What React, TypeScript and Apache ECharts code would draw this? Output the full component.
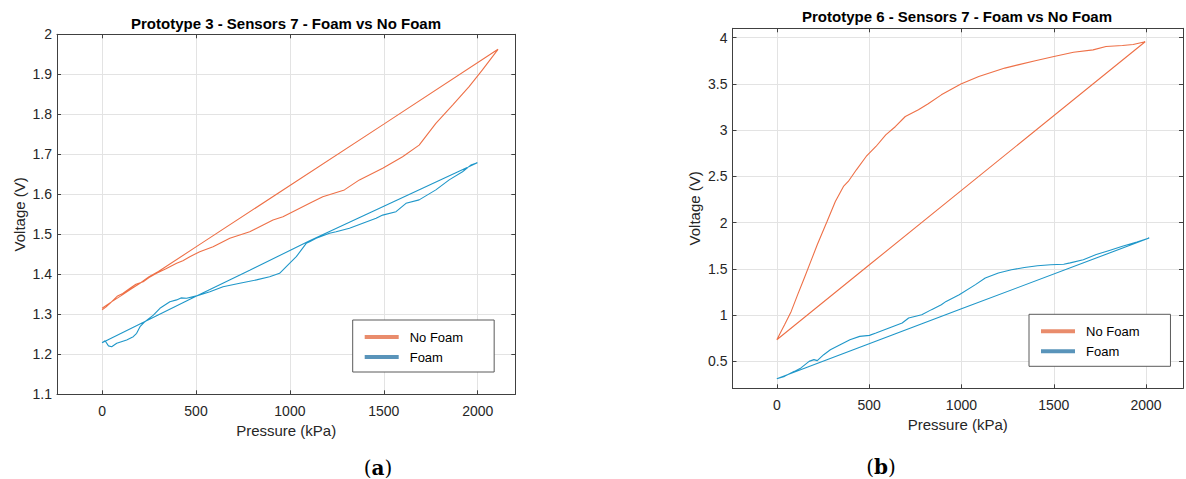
import React, { useEffect, useRef } from "react";
import * as echarts from "echarts";

// ---------- data ----------
const seriesNames = ["No Foam", "Foam"];

const leftTitle = "Prototype 3 - Sensors 7 - Foam vs No Foam";
const rightTitle = "Prototype 6 - Sensors 7 - Foam vs No Foam";

const xTicks = [0, 500, 1000, 1500, 2000];
const leftYTicks = [1.1, 1.2, 1.3, 1.4, 1.5, 1.6, 1.7, 1.8, 1.9, 2];
const rightYTicks = [0.5, 1, 1.5, 2, 2.5, 3, 3.5, 4];

// Prototype 3, no foam (loading curve then straight unloading line)
const leftNoFoam: [number, number][] = [
  [0, 1.311], [20, 1.318], [42, 1.3275], [80, 1.345], [110, 1.352], [149, 1.365],
  [180, 1.375], [219, 1.3815], [250, 1.392], [290, 1.4025], [340, 1.414], [397, 1.4275],
  [430, 1.434], [467, 1.444], [520, 1.4565], [591, 1.469], [680, 1.49], [786, 1.5065],
  [910, 1.536], [963, 1.544], [1105, 1.5775], [1175, 1.594], [1290, 1.611], [1370, 1.636],
  [1494, 1.665], [1600, 1.694], [1688, 1.723], [1777, 1.7775], [1866, 1.823], [1954, 1.869],
  [2025, 1.911], [2108, 1.9625],
  [1500, 1.7755], [1000, 1.622], [500, 1.4685], [300, 1.407], [250, 1.394], [200, 1.377],
  [150, 1.362], [100, 1.346], [50, 1.331], [0, 1.315],
];

// Prototype 3, foam
const leftFoam: [number, number][] = [
  [0, 1.229], [16, 1.234], [34, 1.221], [51, 1.219], [78, 1.2275], [131, 1.236], [166, 1.244],
  [184, 1.2525], [202, 1.269], [228, 1.2815], [273, 1.298], [308, 1.315], [361, 1.3315],
  [397, 1.336], [420, 1.341], [450, 1.34], [503, 1.346], [574, 1.3565], [644, 1.369],
  [733, 1.3775], [822, 1.386], [892, 1.394], [945, 1.4025], [998, 1.4275], [1034, 1.444],
  [1061, 1.461], [1087, 1.4775], [1105, 1.4815], [1140, 1.49], [1211, 1.5025], [1246, 1.5065],
  [1317, 1.515], [1388, 1.5275], [1459, 1.54], [1494, 1.548], [1565, 1.5565], [1618, 1.5775],
  [1688, 1.586], [1777, 1.611], [1848, 1.636], [1919, 1.6565], [1963, 1.673], [1998, 1.679],
  [1500, 1.57], [1105, 1.484], [786, 1.41], [500, 1.345], [0, 1.229],
];

// Prototype 6, no foam
const rightNoFoam: [number, number][] = [
  [0, 0.735], [42, 0.897], [78, 1.041], [113, 1.222], [149, 1.402], [184, 1.581], [219, 1.761],
  [272, 2.013], [317, 2.229], [361, 2.391], [387, 2.445], [431, 2.571], [484, 2.715],
  [537, 2.823], [590, 2.949], [643, 3.039], [696, 3.147], [767, 3.219], [820, 3.285],
  [891, 3.381], [997, 3.497], [1094, 3.579], [1235, 3.67], [1306, 3.705], [1400, 3.75],
  [1501, 3.795], [1607, 3.842], [1713, 3.867], [1783, 3.903], [1872, 3.914], [1930, 3.925],
  [1995, 3.955],
  [1000, 2.349], [500, 1.542], [0, 0.735],
];

// Prototype 6, foam
const rightFoam: [number, number][] = [
  [0, 0.314], [42, 0.339], [95, 0.393], [131, 0.43], [175, 0.501], [201, 0.52], [219, 0.509],
  [254, 0.573], [290, 0.627], [343, 0.681], [396, 0.735], [449, 0.771], [502, 0.782],
  [537, 0.808], [608, 0.862], [679, 0.916], [714, 0.97], [785, 1.005], [838, 1.06],
  [891, 1.113], [917, 1.149], [988, 1.221], [1076, 1.33], [1129, 1.402], [1200, 1.456],
  [1271, 1.491], [1341, 1.516], [1412, 1.535], [1483, 1.545], [1554, 1.55], [1589, 1.565],
  [1660, 1.6], [1730, 1.655], [1801, 1.7], [1872, 1.745], [1950, 1.79], [2017, 1.834],
  [1000, 1.069], [0, 0.314],
];

// ---------- styles ----------
const FONT = "'Liberation Sans', Arial, sans-serif";
const TEXT = "#262626";
const AXIS = "#404040";
const GRID = "#e3e3e3";
const ORANGE = "#ee7047";
const BLUE = "#1f97c9";
const ORANGE_SW = "#e98c6c";
const BLUE_SW = "#5994ba";

const inTicks = (ticks: number[]) => (v: number) =>
  ticks.some((t) => Math.abs(t - v) < 1e-6) ? String(Math.round(v * 1000) / 1000) : "";

function xAxes(grid: number, show: boolean) {
  const base = {
    gridIndex: grid,
    type: "value",
    min: -240,
    max: 2200,
    axisLine: { show: true, onZero: false, lineStyle: { color: AXIS, width: 1 } },
    axisTick: { show: true, inside: true, length: 4, lineStyle: { color: AXIS } },
  };
  return [
    {
      ...base,
      position: "bottom",
      axisLabel: {
        show,
        formatter: inTicks(xTicks),
        color: TEXT,
        fontSize: 14,
        fontFamily: FONT,
        margin: 10,
      },
      splitLine: { show: true, lineStyle: { color: GRID, width: 1 } },
      name: "Pressure (kPa)",
      nameLocation: "middle",
      nameGap: 29,
      nameTextStyle: { color: TEXT, fontSize: 15, fontFamily: FONT },
    },
    {
      ...base,
      position: "top",
      axisLabel: { show: false },
      splitLine: { show: false },
    },
  ];
}

function yAxes(grid: number, min: number, max: number, ticks: number[], extra: any, gap: number) {
  const base = {
    gridIndex: grid,
    type: "value",
    min,
    max,
    ...extra,
    axisLine: { show: true, onZero: false, lineStyle: { color: AXIS, width: 1 } },
    axisTick: { show: true, inside: true, length: 4, lineStyle: { color: AXIS } },
  };
  return [
    {
      ...base,
      position: "left",
      axisLabel: {
        formatter: inTicks(ticks),
        color: TEXT,
        fontSize: 14,
        fontFamily: FONT,
        margin: 5,
      },
      splitLine: { show: true, lineStyle: { color: GRID, width: 1 } },
      name: "Voltage (V)",
      nameLocation: "middle",
      nameGap: gap,
      nameTextStyle: { color: TEXT, fontSize: 15, fontFamily: FONT },
    },
    {
      ...base,
      position: "right",
      axisLabel: { show: false },
      splitLine: { show: false },
    },
  ];
}

function lineSeries(name: string, data: [number, number][], color: string, axisIdx: number) {
  return {
    type: "line",
    name,
    data,
    xAxisIndex: axisIdx,
    yAxisIndex: axisIdx,
    showSymbol: false,
    symbol: "none",
    clip: true,
    lineStyle: { color, width: 1.1 },
    itemStyle: { color },
    emphasis: { disabled: true },
  };
}

function legend(left: number, top: number) {
  return {
    left,
    top,
    orient: "vertical",
    icon: "rect",
    itemWidth: 34,
    itemHeight: 4,
    itemGap: 6,
    padding: [10, 31, 8, 12],
    backgroundColor: "#ffffff",
    borderColor: "#5a5a5a",
    borderWidth: 1,
    selectedMode: false,
    textStyle: { color: "#000", fontSize: 13, fontFamily: FONT, lineHeight: 14, padding: [0, 0, 0, 6] },
    data: [
      { name: seriesNames[0], itemStyle: { color: ORANGE_SW } },
      { name: seriesNames[1], itemStyle: { color: BLUE_SW } },
    ],
  };
}

export default function App() {
  const ref = useRef<HTMLDivElement>(null);

  useEffect(() => {
    if (!ref.current) return;
    const chart = echarts.init(ref.current, undefined, { renderer: "svg" });
    const xa = [...xAxes(0, true), ...xAxes(1, true)];
    const ya = [
      ...yAxes(0, 1.1, 2, leftYTicks, { interval: 0.1 }, 30),
      ...yAxes(1, 0.21, 4.1, rightYTicks, { splitNumber: 8 }, 30.5),
    ];
    // top / right helper axes have index 1 and 3; series use 0 and 2
    const option: any = {
      animation: false,
      backgroundColor: "#ffffff",
      grid: [
        { left: 57, top: 34.3, width: 458.3, height: 360, containLabel: false },
        { left: 732.5, top: 28.3, width: 458, height: 360, containLabel: false },
      ],
      xAxis: xa,
      yAxis: ya,
      legend: [legend(352.7, 320), legend(1029, 314.3)],
      series: [
        lineSeries(seriesNames[0], leftNoFoam, ORANGE, 0),
        lineSeries(seriesNames[1], leftFoam, BLUE, 0),
        lineSeries(seriesNames[0], rightNoFoam, ORANGE, 2),
        lineSeries(seriesNames[1], rightFoam, BLUE, 2),
      ],
      graphic: [
        {
          type: "text",
          x: 286,
          y: 23.3,
          style: {
            text: leftTitle,
            font: `bold 15px ${FONT}`,
            fill: "#000",
            textAlign: "center",
            textVerticalAlign: "middle",
          },
        },
        {
          type: "text",
          x: 957,
          y: 16.7,
          style: {
            text: rightTitle,
            font: `bold 15px ${FONT}`,
            fill: "#000",
            textAlign: "center",
            textVerticalAlign: "middle",
          },
        },
        {
          type: "text",
          x: 378,
          y: 468,
          style: {
            text: "{p|(}{b|a}{p|)}",
            textAlign: "center",
            textVerticalAlign: "middle",
            rich: {
              p: { fontFamily: "'DejaVu Serif', serif", fontSize: 20, fill: "#000" },
              b: { fontFamily: "'DejaVu Serif', serif", fontSize: 20, fontWeight: "bold", fill: "#000" },
            },
          },
        },
        {
          type: "text",
          x: 881,
          y: 467,
          style: {
            text: "{p|(}{b|b}{p|)}",
            textAlign: "center",
            textVerticalAlign: "middle",
            rich: {
              p: { fontFamily: "'DejaVu Serif', serif", fontSize: 20, fill: "#000" },
              b: { fontFamily: "'DejaVu Serif', serif", fontSize: 20, fontWeight: "bold", fill: "#000" },
            },
          },
        },
      ],
    };
    chart.setOption(option);
    return () => chart.dispose();
  }, []);

  return (
    <div
      ref={ref}
      style={{ position: "absolute", left: 0, top: 0, width: 1186, height: 479, background: "#fff" }}
    />
  );
}
